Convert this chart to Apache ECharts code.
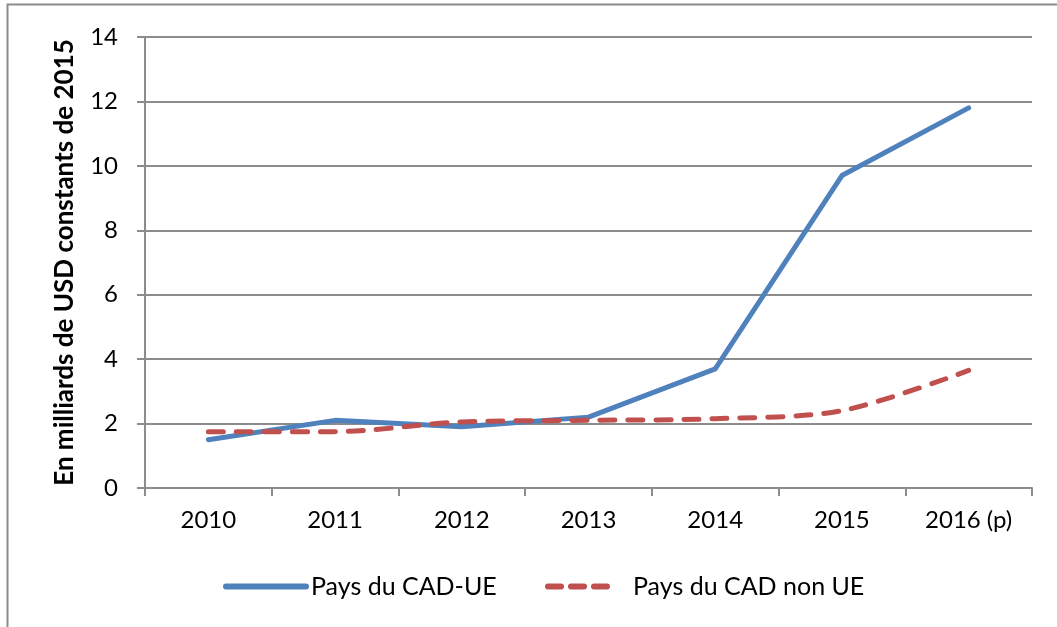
<!DOCTYPE html>
<html>
<head>
<meta charset="utf-8">
<script src="https://cdn.jsdelivr.net/npm/echarts@6/dist/echarts.min.js"></script>
<style>
html,body{margin:0;padding:0;background:#fff;}
#chart{width:1057px;height:627px;}
</style>
</head>
<body>
<div id="chart"></div>
<script>
const categories = ['2010','2011','2012','2013','2014','2015','2016 (p)'];
const seriesNames = ['Pays du CAD-UE','Pays du CAD non UE'];
const cadUE = [1.5, 2.1, 1.9, 2.2, 3.7, 9.7, 11.8];
const cadNonUE = [1.75, 1.75, 2.05, 2.1, 2.15, 2.4, 3.65];
const yTitle = 'En milliards de USD constants de 2015';

const FONT = 'Lato, "Open Sans", sans-serif';
const BLUE = '#4F81BD', RED = '#C0504D';
const chart = echarts.init(document.getElementById('chart'), null, {renderer:'canvas'});
chart.setOption({
  backgroundColor:'#fff',
  animation:false,
  graphic:[{
    type:'rect', shape:{x:7.5,y:4.5,width:1100,height:700},
    style:{fill:'none',stroke:'#8c8c8c',lineWidth:2}, silent:true, z:-1
  }],
  grid:{left:145,right:25,top:37,bottom:139,containLabel:false},
  legend:[{
    top:569, left:218,
    itemWidth:80, itemHeight:14,
    itemStyle:{opacity:0},
    textStyle:{fontFamily:FONT,fontSize:25,color:'#000'},
    data:[{name:seriesNames[0], lineStyle:{color:BLUE,width:6,type:'solid',cap:'round'}}]
  },{
    top:569, left:540,
    itemWidth:67, itemHeight:14,
    itemStyle:{opacity:0},
    textStyle:{fontFamily:FONT,fontSize:25,color:'#000',padding:[0,0,0,13]},
    data:[{name:seriesNames[1], lineStyle:{color:RED,width:6,type:[13,10],cap:'round'}}]
  }],
  xAxis:{
    type:'category', data:categories, boundaryGap:true,
    axisLine:{lineStyle:{color:'#8c8c8c',width:2}},
    axisTick:{show:true,length:8,lineStyle:{color:'#8c8c8c',width:2}},
    axisLabel:{fontFamily:FONT,fontSize:24,color:'#000',margin:20}
  },
  yAxis:{
    type:'value', min:0, max:14, interval:2,
    name:yTitle, nameLocation:'middle', nameGap:67,
    nameTextStyle:{fontFamily:FONT,fontSize:26,fontWeight:'bold',color:'#000'},
    axisLine:{show:true,lineStyle:{color:'#8c8c8c',width:2}},
    axisTick:{show:true,length:8,lineStyle:{color:'#8c8c8c',width:2}},
    splitLine:{lineStyle:{color:'#8c8c8c',width:2}},
    axisLabel:{fontFamily:FONT,fontSize:24,color:'#000',margin:27}
  },
  series:[
    {name:seriesNames[0],type:'line',data:cadUE,symbol:'none',
     lineStyle:{color:BLUE,width:5,cap:'round',join:'round'},itemStyle:{color:BLUE}},
    {name:seriesNames[1],type:'line',data:cadNonUE,symbol:'none',smooth:0.3,
     lineStyle:{color:RED,width:5,type:[15,13],cap:'round'},itemStyle:{color:RED}}
  ]
});
</script>
</body>
</html>
